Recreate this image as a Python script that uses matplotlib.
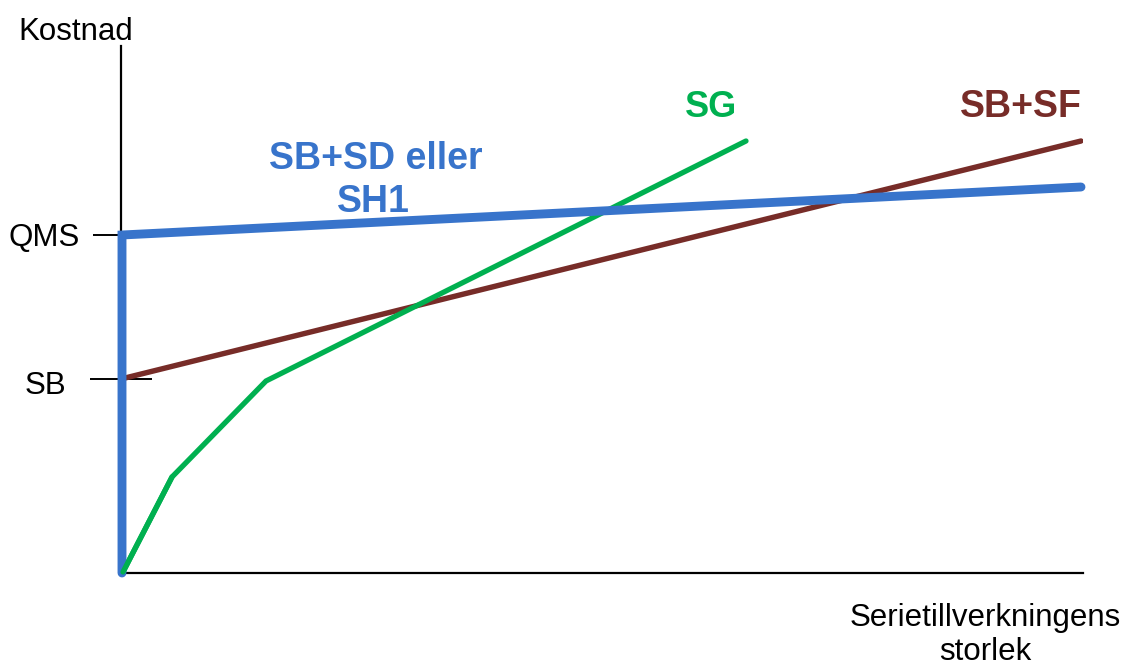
import matplotlib
matplotlib.use("Agg")
import matplotlib.pyplot as plt
import matplotlib.transforms as mtransforms

plt.rcParams['font.family'] = ['Liberation Sans', 'DejaVu Sans']

# Data (arbitrary units: x = series size, y = cost)
qms_level = 338
sb_level = 194

blue_x = [1, 1, 960]
blue_y = [0, 338, 386]

green_x = [2, 51, 145, 625]
green_y = [1, 96, 192, 432]

brown_x = [0, 960]
brown_y = [194, 432]

ytick_major = [qms_level]
ytick_major_labels = ["QMS"]
ytick_minor = [sb_level]
ytick_minor_labels = ["SB"]

c_blue = '#3874CB'
c_green = '#00B050'
c_brown = '#772C28'

W, H = 1126, 666
fig = plt.figure(figsize=(W / 100, H / 100), dpi=100)
ax = fig.add_axes([121 / W, (H - 573) / H, 962 / W, (573 - 46) / H])
ax.set_xlim(0, 962)
ax.set_ylim(0, 527)

for s in ['top', 'right']:
    ax.spines[s].set_visible(False)
for s in ['left', 'bottom']:
    ax.spines[s].set_linewidth(1.6)
    ax.spines[s].set_color('black')

ax.set_xticks([])
ax.set_yticks(ytick_major)
ax.set_yticklabels(ytick_major_labels)
ax.set_yticks(ytick_minor, minor=True)
ax.set_yticklabels(ytick_minor_labels, minor=True)
ax.tick_params(axis='y', which='major', direction='out', length=20, width=1.4,
               pad=9.5, labelsize=22.5)
ax.tick_params(axis='y', which='minor', direction='inout', length=44, width=1.4,
               pad=17.5, labelsize=22.5)
for lab in ax.get_yticklabels(minor=True):
    lab.set_transform(lab.get_transform() +
                      mtransforms.ScaledTranslation(0, -4 / 100, fig.dpi_scale_trans))

ax.plot(brown_x, brown_y, color=c_brown, lw=3.9, solid_capstyle='round', zorder=3)
ax.plot(green_x, green_y, color=c_green, lw=3.8, solid_capstyle='round',
        solid_joinstyle='miter', zorder=4)
ax.plot(blue_x, blue_y, color=c_blue, lw=6.4, solid_capstyle='round',
        solid_joinstyle='miter', zorder=5, clip_on=False)
ax.plot(green_x[:2], green_y[:2], color=c_green, lw=3.8, solid_capstyle='round',
        zorder=6, clip_on=False)


def ft(x, y, s, **kw):
    fig.text(x / W, 1 - y / H, s, **kw)


ft(18, 40, "Kostnad", fontsize=22.5, ha='left', va='baseline')
ft(985, 626, "Serietillverkningens", fontsize=22.5, ha='center', va='baseline')
ft(985, 660, "storlek", fontsize=22.5, ha='center', va='baseline')
ft(376, 169, "SB+SD eller", fontsize=27, fontweight='bold', color=c_blue,
   ha='center', va='baseline')
ft(373, 212, "SH1", fontsize=27, fontweight='bold', color=c_blue,
   ha='center', va='baseline')
ft(711, 117, "SG", fontsize=26, fontweight='bold', color=c_green,
   ha='center', va='baseline')
ft(1021, 117, "SB+SF", fontsize=27, fontweight='bold', color=c_brown,
   ha='center', va='baseline')

fig.savefig("out.png", dpi=100)
